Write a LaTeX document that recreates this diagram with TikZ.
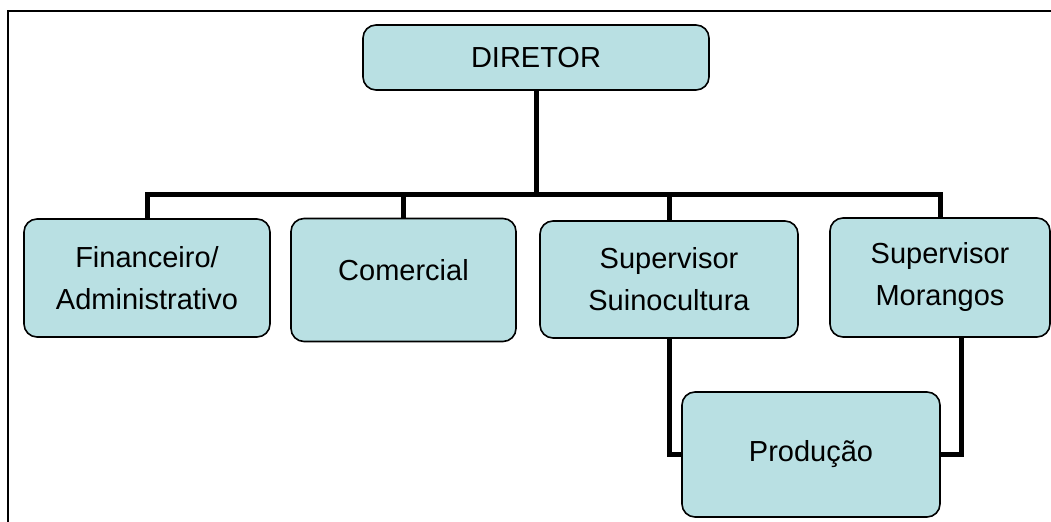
\documentclass[tikz,border=0pt]{standalone}
\usepackage{fontspec}
\setmainfont{Liberation Sans}
\usetikzlibrary{calc, positioning}
\definecolor{boxfill}{RGB}{185,224,227}

\begin{document}
\begin{tikzpicture}[
    x=0.5pt, y=-0.5pt,
    font=\fontsize{14.5}{21}\selectfont,
    unit/.style={draw=black, line width=0.8pt, fill=boxfill, rounded corners=6.5pt,
                 align=center, inner sep=0pt},
    link/.style={black, line width=2.5pt, line join=miter},
    frame/.style={black, line width=1pt}
]
\useasboundingbox (0,0) rectangle (1051,522);
\draw[frame] (1051,11) -- (8,11) -- (8,522);

% boxes
\node[unit, minimum width=173pt, minimum height=32.5pt] (dir) at (536,57.5) {DIRETOR};
\node[unit, minimum width=123pt, minimum height=59pt] (fin) at (147,278)
    {Financeiro/\\Administrativo};
\node[unit, minimum width=112.5pt, minimum height=61.5pt] (com) at (403.5,280)
    {\raisebox{10pt}{Comercial}};
\node[unit, minimum width=129pt, minimum height=58.5pt] (sui) at (669,279.5)
    {Supervisor\\Suinocultura};
\node[unit, minimum width=110pt, minimum height=59.5pt] (mor) at (940,277.5)
    {Supervisor\\Morangos};
\node[unit, minimum width=129pt, minimum height=62.5pt] (prod) at (811,454.5) {Produção};

% connectors
\coordinate (bus) at (536,195);
\draw[link] (dir.south) -- (bus);
\draw[link] (fin.north) -- (fin.north |- bus) -- (mor.north |- bus) -- (mor.north);
\foreach \n in {com, sui}
    \draw[link] (\n.north) -- (\n.north |- bus);
\draw[link] (sui.south) |- (prod.west);
\draw[link] ([xshift=10.5pt]mor.south) |- (prod.east);
\end{tikzpicture}
\end{document}
